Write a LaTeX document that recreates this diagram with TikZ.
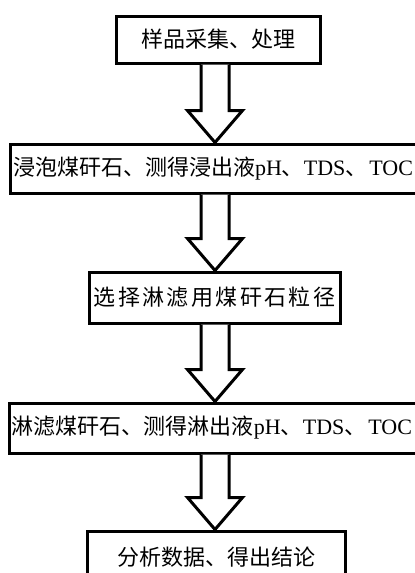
\documentclass[tikz,border=0pt]{standalone}
\usepackage{fontspec}
\setmainfont{Liberation Serif}
\newfontfamily\cjk{Noto Sans CJK SC}
\newfontfamily\cjkwide[LetterSpace=11]{Noto Sans CJK SC}
\usetikzlibrary{calc}
\newcommand\blockarrow[2]{%
  \draw[barrow] ($(#1.south -| ax)+(-14,0)$) -- ($(#2.north -| ax)+(-14,-32)$)
    -- ++(-13.5,0) -- (#2.north -| ax) -- ++(27.5,-32) -- ++(-13.5,0)
    -- ($(#1.south -| ax)+(14,0)$);}
\begin{document}
\begin{tikzpicture}[x=1pt,y=-1pt,
  box/.style={draw,line width=3pt,inner sep=0pt,font=\fontsize{22}{26}\selectfont},
  barrow/.style={draw,line width=3pt,fill=white,line join=miter}]
\useasboundingbox (0,0) rectangle (415,573);
\coordinate (ax) at (215,0);
\node[box,minimum width=204pt,minimum height=47pt] (b1) at (218,39.5) {\cjk 样品采集、处理};
\node[box,minimum height=49pt,text width=429pt,inner xsep=3pt,align=left] (b2) at (227.5,168.5)
  {{\cjk 浸泡煤矸石、测得浸出液}pH{\cjk 、}TDS{\cjk 、}\kern2pt TOC};
\node[box,minimum width=251pt,minimum height=51pt] (b3) at (214.5,297.5) {\cjkwide 选择淋滤用煤矸石粒径};
\node[box,minimum height=50pt,text width=430pt,inner xsep=3pt,align=left] (b4) at (227,428)
  {{\cjk 淋滤煤矸石、测得淋出液}pH{\cjk 、}TDS{\cjk 、}\kern2pt TOC};
\node[box,minimum width=258pt,minimum height=52pt] (b5) at (216,557) {\cjk 分析数据、得出结论};
\blockarrow{b1}{b2}
\blockarrow{b2}{b3}
\blockarrow{b3}{b4}
\blockarrow{b4}{b5}
\end{tikzpicture}
\end{document}
